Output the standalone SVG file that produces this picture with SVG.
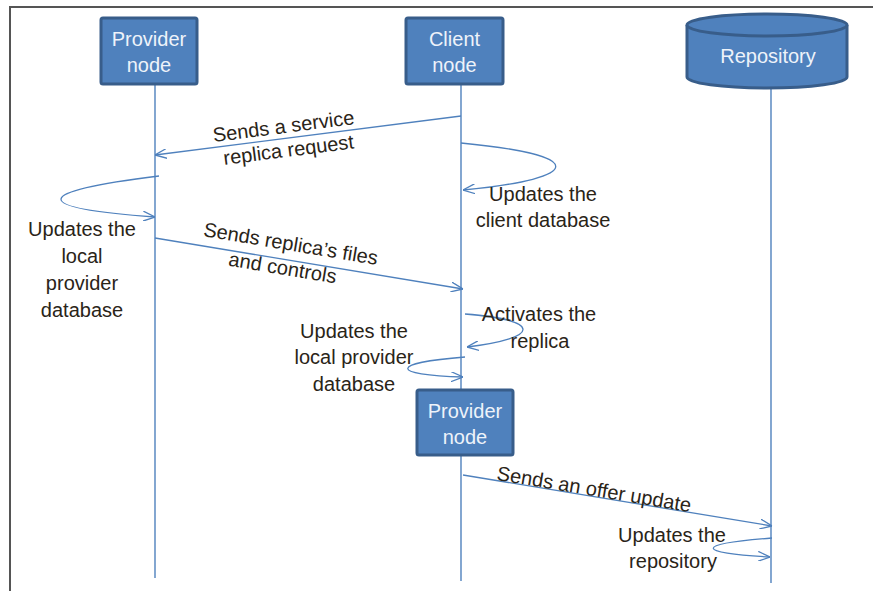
<svg xmlns="http://www.w3.org/2000/svg" width="873" height="591" viewBox="0 0 873 591">
  <defs>
    <marker id="arr" viewBox="0 0 12 10" refX="12" refY="5" markerWidth="12" markerHeight="10" markerUnits="userSpaceOnUse" orient="auto">
      <path d="M0,0 L12,5 L0,10" fill="none" stroke="#4f81bd" stroke-width="1.3"/>
    </marker>
    <style>
      .frame { fill: none; stroke: #555; stroke-width: 2; }
      .box { fill: #4f81bd; stroke: #385d8a; stroke-width: 3; }
      .life { fill: none; stroke: #4f81bd; stroke-width: 1.4; }
      .msg { fill: none; stroke: #4f81bd; stroke-width: 1.3; marker-end: url(#arr); }
      .ntext { font-family: "Liberation Sans", Arial, sans-serif; font-size: 20px; fill: #eef3fa; text-anchor: middle; }
      .lbl { font-family: "Liberation Sans", Arial, sans-serif; font-size: 20px; fill: #2a2418; text-anchor: middle; }
    </style>
  </defs>

  <rect width="873" height="591" fill="#fff"/>
  <path class="frame" d="M10,591 V7 H873"/>

  <!-- lifelines -->
  <g id="lifelines">
    <line class="life" x1="155" y1="84" x2="155" y2="578"/>
    <line class="life" x1="461" y1="84" x2="461" y2="581"/>
    <line class="life" x1="771" y1="88" x2="771" y2="583"/>
  </g>

  <g id="provider-node">
    <rect class="box" x="101" y="18" width="96" height="66" rx="2"/>
    <text class="ntext" x="149" y="46">Provider</text>
    <text class="ntext" x="149" y="72">node</text>
  </g>

  <g id="client-node">
    <rect class="box" x="406" y="18" width="97" height="66" rx="2"/>
    <text class="ntext" x="454.5" y="46">Client</text>
    <text class="ntext" x="454.5" y="72">node</text>
  </g>

  <g id="repository">
    <path class="box" d="M687,25 V77 A80,11 0 0 0 847,77 V25 A80,11 0 0 0 687,25 Z"/>
    <path class="box" d="M687,25 A80,11 0 0 0 847,25"/>
    <text class="ntext" x="768" y="63">Repository</text>
  </g>

  <g id="provider-node-2">
    <rect class="box" x="417" y="390" width="96" height="65" rx="2"/>
    <text class="ntext" x="465" y="418">Provider</text>
    <text class="ntext" x="465" y="444">node</text>
  </g>

  <!-- messages -->
  <g id="connectors">
    <line class="msg" x1="461" y1="116" x2="155" y2="155"/>
    <path class="msg" d="M159,176 C29,192 29,208 155,217"/>
    <path class="msg" d="M461,143 C587,155 587,178 463,190"/>
    <line class="msg" x1="155" y1="238" x2="463" y2="289"/>
    <path class="msg" d="M465,314 C542,320 542,338 467,347"/>
    <path class="msg" d="M465,357 C389,363 389,375 463,377"/>
    <line class="msg" x1="463" y1="475" x2="772" y2="526"/>
    <path class="msg" d="M772,538 C694,544 694,553 770,557"/>
  </g>

  <!-- message labels -->
  <g id="labels">
    <g transform="rotate(-7.3 285 138)">
      <text class="lbl" x="285" y="133">Sends a service</text>
      <text class="lbl" x="287" y="157">replica request</text>
    </g>
    <text class="lbl" x="82" y="236">Updates the</text>
    <text class="lbl" x="82" y="263">local</text>
    <text class="lbl" x="82" y="290">provider</text>
    <text class="lbl" x="82" y="317">database</text>

    <text class="lbl" x="543" y="201">Updates the</text>
    <text class="lbl" x="543" y="227">client database</text>

    <g transform="rotate(9.5 286 260)">
      <text class="lbl" x="288" y="250">Sends replica’s files</text>
      <text class="lbl" x="284" y="275">and controls</text>
    </g>

    <text class="lbl" x="539" y="321">Activates the</text>
    <text class="lbl" x="540" y="348">replica</text>

    <text class="lbl" x="354" y="338">Updates the</text>
    <text class="lbl" x="354" y="364">local provider</text>
    <text class="lbl" x="354" y="391">database</text>

    <text class="lbl" x="594" y="496" transform="rotate(9.5 594 490)">Sends an offer update</text>

    <text class="lbl" x="672" y="542">Updates the</text>
    <text class="lbl" x="673" y="568">repository</text>
  </g>
</svg>
